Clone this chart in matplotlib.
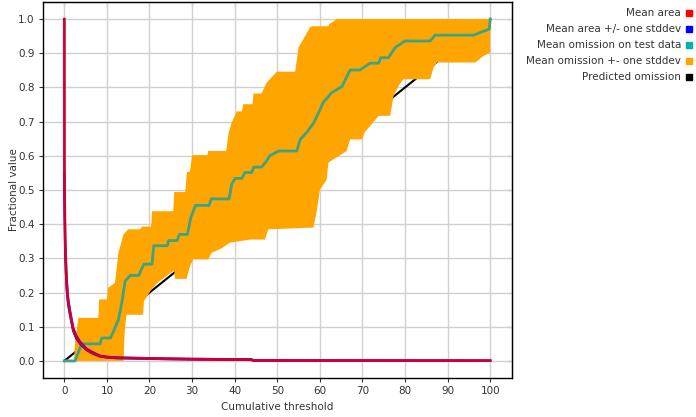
import matplotlib
matplotlib.use("Agg")
import matplotlib.pyplot as plt
from matplotlib.patches import Rectangle
import numpy as np

plt.rcParams['font.family'] = ['DejaVu Sans']
plt.rcParams['font.size'] = 7.5

# ---------------------------------------------------------
# Data
# ---------------------------------------------------------
# Mean fractional area (and +/- one stddev)
area_x = [0, 0.02, 0.1, 0.2, 0.35, 0.55, 0.9, 1.34, 2.1, 2.8, 3.7, 5.3, 6.9, 8.4,
          10, 12.4, 16, 20, 25, 30, 40, 43.8, 44.5, 100]
area_mean = [1.0, 0.55, 0.45, 0.35, 0.29, 0.23, 0.175, 0.141, 0.092, 0.07, 0.053,
             0.033, 0.022, 0.014, 0.011, 0.009, 0.008, 0.007, 0.006, 0.005, 0.004,
             0.004, 0.001, 0.001]
area_hi = [1.0, 0.56, 0.46, 0.36, 0.30, 0.24, 0.182, 0.147, 0.097, 0.074, 0.056,
           0.035, 0.024, 0.015, 0.012, 0.010, 0.009, 0.008, 0.007, 0.006, 0.005,
           0.005, 0.002, 0.001]
area_lo = [0.55, 0.50, 0.43, 0.33, 0.27, 0.21, 0.165, 0.134, 0.087, 0.066, 0.05,
           0.031, 0.02, 0.013, 0.010, 0.008, 0.007, 0.006, 0.005, 0.004, 0.003,
           0.003, 0.0005, 0.0005]

# Mean omission on test data
om_x = [0, 2.5, 4.1, 8.4, 8.8, 10.8, 11.5, 12.0, 12.7, 13.5, 14.3, 15.5, 17.5, 18.0,
        18.7, 20.6, 21.0, 24.2, 24.5, 26.5, 27.0, 28.9, 29.7, 30.8, 34.0, 34.5,
        38.7, 39.3, 40.1, 41.7, 42.4, 44.0, 44.5, 46.3, 47.5, 48.2, 50.3, 54.6,
        55.4, 57.0, 58.5, 60.1, 60.8, 62.8, 65.2, 67.1, 69.4, 71.8, 73.8, 74.3,
        76.1, 77.7, 80.0, 85.9, 87.1, 96.1, 99.8, 100]
om_mean = [0, 0, 0.05, 0.05, 0.067, 0.067, 0.085, 0.10, 0.12, 0.17, 0.234, 0.25,
           0.25, 0.265, 0.283, 0.283, 0.337, 0.337, 0.352, 0.352, 0.37, 0.37, 0.419,
           0.455, 0.455, 0.474, 0.474, 0.517, 0.534, 0.534, 0.551, 0.551, 0.567,
           0.567, 0.585, 0.60, 0.614, 0.614, 0.648, 0.67, 0.695, 0.736, 0.756,
           0.785, 0.803, 0.851, 0.851, 0.871, 0.871, 0.887, 0.887, 0.917, 0.936,
           0.936, 0.953, 0.953, 0.971, 1.0]

# Mean omission +/- one stddev (upper and lower edges of the band)
band_hi_x = [2.3, 2.5, 3.3, 8.0, 8.2, 10.0, 10.3, 11.9, 12.7, 13.9, 15.0, 17.8, 18.2,
             20.4, 20.6, 25.6, 25.8, 28.4, 28.8, 29.5, 30.0, 33.6, 33.8, 38.0, 38.6,
             39.3, 40.5, 41.7, 42.0, 44.2, 44.4, 46.3, 47.5, 49.9, 54.2, 55.0, 56.5,
             57.7, 58.1, 62.0, 62.2, 64.0, 100]
band_hi = [0.0, 0.054, 0.126, 0.126, 0.18, 0.18, 0.214, 0.228, 0.316, 0.37, 0.385,
           0.385, 0.393, 0.393, 0.438, 0.438, 0.494, 0.494, 0.553, 0.553, 0.602,
           0.602, 0.614, 0.614, 0.668, 0.697, 0.73, 0.73, 0.751, 0.751, 0.782, 0.782,
           0.814, 0.846, 0.846, 0.917, 0.95, 0.976, 0.979, 0.979, 0.985, 1.0, 1.0]
band_lo_x = [2.3, 13.9, 14.2, 14.6, 18.5, 18.7, 19.5, 20.5, 22.0, 25.8, 26.0, 28.7,
             29.5, 30.3, 33.8, 34.6, 37.0, 38.9, 43.6, 47.1, 47.9, 58.5, 59.3, 60.0,
             61.6, 62.0, 63.2, 66.3, 67.1, 69.9, 70.5, 72.0, 73.8, 76.5, 77.3, 78.5,
             79.6, 85.9, 86.7, 87.5, 96.5, 98.4, 100]
band_lo = [0.0, 0.0, 0.09, 0.135, 0.135, 0.175, 0.19, 0.21, 0.23, 0.265, 0.24, 0.24,
           0.277, 0.297, 0.297, 0.316, 0.33, 0.346, 0.355, 0.355, 0.385, 0.39, 0.44,
           0.50, 0.53, 0.58, 0.59, 0.614, 0.648, 0.648, 0.668, 0.69, 0.717, 0.717,
           0.775, 0.805, 0.824, 0.824, 0.858, 0.873, 0.873, 0.892, 0.902]

# Predicted omission
pred_x = [0, 100]
pred_y = [0, 1]

legend_labels = ["Mean area", "Mean area +/- one stddev", "Mean omission on test data",
                 "Mean omission +- one stddev", "Predicted omission"]
legend_colors = ["#ff0000", "#0000ff", "#00b2aa", "#ffa500", "#000000"]

# ---------------------------------------------------------
# Figure
# ---------------------------------------------------------
W, H = 696, 417
fig = plt.figure(figsize=(W / 100, H / 100), dpi=100)
ax = fig.add_axes([43 / W, 1 - 378 / H, (511.5 - 43) / W, (378 - 2) / H])

ax.plot(pred_x, pred_y, color='black', lw=1.5, zorder=2)
ax.fill(np.concatenate([band_hi_x, band_lo_x[::-1]]),
        np.concatenate([band_hi, band_lo[::-1]]),
        color='#ffa500', lw=0, zorder=3)
ax.plot(om_x, om_mean, color='#3ba386', lw=2, zorder=4)
ax.plot(area_x, area_hi, color='#0000ff', lw=1.6, zorder=5)
ax.plot(area_x, area_lo, color='#0000ff', lw=1.6, zorder=5)
ax.plot(area_x, area_mean, color='#ff0000', lw=2, alpha=0.8, zorder=6)

ax.set_xlim(-5, 105)
ax.set_ylim(-0.05, 1.05)
xt = np.arange(0, 101, 10)
yt = np.arange(0, 1.01, 0.1)
ax.set_xticks(xt)
ax.set_yticks(yt)
ax.set_yticklabels([f"{v:.1f}" for v in yt])
ax.grid(True, color='#d0d0d0', lw=1.0)
ax.set_axisbelow(True)
ax.tick_params(direction='out', length=3, width=0.8, colors='#333333',
               labelcolor='#333333', pad=3)
for s in ax.spines.values():
    s.set_color('black')
    s.set_linewidth(1.0)

top = ax.secondary_xaxis('top')
top.set_xticks(xt)
top.tick_params(direction='in', length=3, labeltop=False)
right = ax.secondary_yaxis('right')
right.set_yticks(yt)
right.tick_params(direction='in', length=3, labelright=False)

ax.set_xlabel("Cumulative threshold", color='#333333')
ax.set_ylabel("Fractional value", color='#333333')
ax.xaxis.set_label_coords(0.5, -(402 - 378) / 376)
ax.yaxis.set_label_coords(-(43 - 19) / 468.5, 0.5)

# Legend on the right, text right-aligned with a small colour square
for i, (lab, col) in enumerate(zip(legend_labels, legend_colors)):
    yc = 13 + 16 * i
    fig.text(681 / W, 1 - yc / H, lab, ha='right', va='center', color='#333333')
    fig.patches.append(Rectangle((686 / W, 1 - (yc + 3) / H), 6 / W, 6 / H,
                                 transform=fig.transFigure, color=col))

fig.savefig("out.png", dpi=100)
